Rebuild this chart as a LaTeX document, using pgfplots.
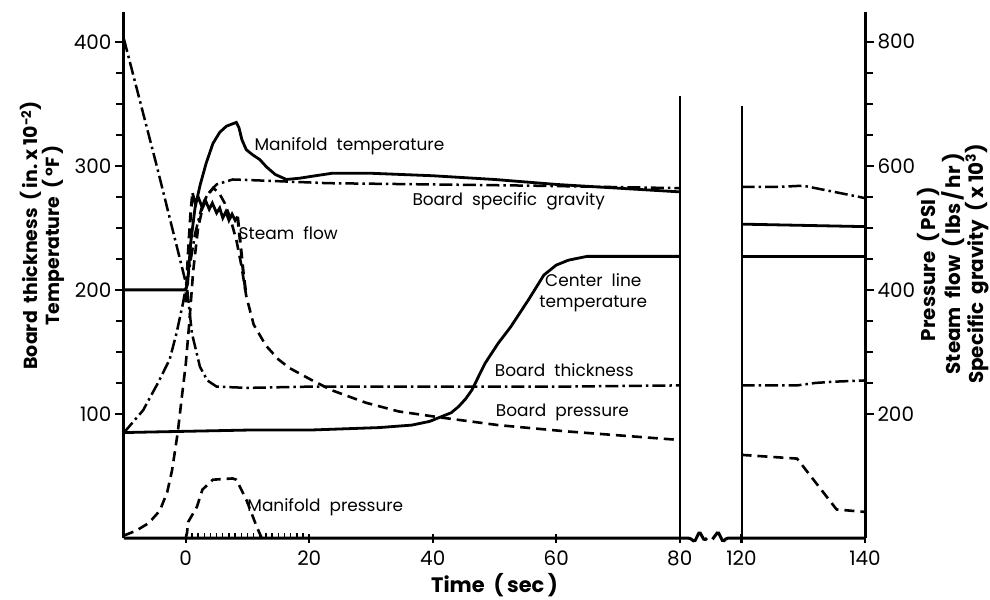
\documentclass[border=0pt]{standalone}
\usepackage{fontspec}
\setmainfont{Poppins}
\usepackage{pgfplots}
\pgfplotsset{compat=1.18}

% right panel (120-140 s) is drawn at 90-110 on the shared x scale
\tikzset{
  dsh/.style={line width=2.6bp, dash pattern=on 10bp off 6bp},
  dshdot/.style={line width=2.5bp, dash pattern=on 13bp off 4bp on 2.5bp off 4bp},
  sld/.style={line width=2.8bp},
  lbl/.style={font=\fontsize{17}{21}\selectfont, align=center},
}

\begin{document}
\begin{tikzpicture}
\begin{axis}[
  at={(0,0)}, anchor=south west,
  scale only axis, width=741bp, height=526bp,
  xmin=-10, xmax=110, ymin=0, ymax=424,
  axis y line*=left, axis x line*=bottom,
  x axis line style={draw=none},
  y axis line style={line width=3bp},
  xtick={0,20,40,60,80,90,110},
  xticklabels={0,20,40,60,80,120,140},
  xtick align=center,
  xticklabel style={yshift=-5bp},
  extra x ticks={1,2,3,4,5,6,7,8,9,10,11,12,13,14,15,16,17,18,19},
  extra x tick labels={},
  extra x tick style={tick align=inside, major tick length=5bp, tick style={line width=1.4bp}},
  ytick={100,200,300,400},
  minor y tick num=3,
  ytick align=outside,
  major tick length=9bp, minor tick length=8bp,
  tick style={line width=2.2bp, black},
  ticklabel style={font=\fontsize{20}{20}\selectfont},
  /pgf/number format/assume math mode=true,
  clip=false,
]

% Manifold temperature
\addplot[sld] coordinates {
  (-10,200) (0,200) (0.3,205) (0.8,238) (1.5,266) (2.3,284) (3.3,302)
  (4.4,318) (5.5,327) (6.6,332) (8.2,335) (8.6,331) (9.1,321) (9.8,313)
  (10.8,309) (12,305) (13.1,299) (14.5,293) (16.3,289) (18.4,290)
  (21,292) (23.7,294) (30,294) (40,292) (50,289) (60,285) (70,282) (80,279)
};
\addplot[sld] coordinates {(90,253) (110,251)};

% Center line temperature
\addplot[sld] coordinates {
  (-10,85) (0,86) (10,87) (20,87) (31.3,89) (36.6,91) (39.5,94) (41.3,97.6)
  (43,101) (44.2,106) (45.3,112) (46.3,119) (48.5,141) (50.6,157)
  (52.6,170) (55.5,192) (58,212) (60,220) (62,224) (65,227) (80,227)
};
\addplot[sld] coordinates {(90,227) (110,227)};

% Board thickness
\addplot[dshdot] coordinates {
  (-10,402) (-4.7,300) (0.2,202) (1,165) (2.3,138) (3.5,127) (5,122)
  (10,121) (20,122) (40,122) (60,122) (80,123)
};
\addplot[dshdot] coordinates {(90,123) (99,123) (102,125) (105,126) (110,127)};

% Board specific gravity
\addplot[dshdot] coordinates {
  (-10,85) (-6.9,103) (-4.5,125) (-2.6,144) (-1.5,165) (-0.5,188) (0.5,215)
  (1.5,245) (2.5,265) (3.5,277) (5,285) (7.6,289) (13,288) (23,286)
  (40,285) (56,284) (80,282)
};
\addplot[dshdot] coordinates {(90,283) (96,283) (100,284) (104,280) (110,274)};

% Board pressure
\addplot[dsh] coordinates {
  (-10,2) (-8,6) (-6,12) (-4.2,22) (-3,37) (-2.2,55) (-1.3,85) (-0.6,115)
  (0,140) (0.6,175) (1.2,215) (2,250) (3,272) (4.4,282) (5.3,279)
  (6.3,270) (7.2,258) (8.2,240) (9,220) (9.8,195) (11,172) (13,155)
  (15,144) (16.8,137) (20.5,127) (23.7,119) (29.2,109) (34.5,102)
  (41.5,97) (50.6,91) (61.5,86) (80,79)
};
\addplot[dsh] coordinates {(90,67) (99,64) (105.4,23) (110,21)};

% Steam flow
\addplot[dsh, line width=3bp] coordinates {(0,190) (0.4,230) (0.8,262) (1.1,278)};
\addplot[sld] coordinates {
  (1.1,278) (1.5,270) (2,275) (2.7,266) (3.2,272) (3.8,265) (4.3,270)
  (5,262) (5.5,266) (6,258) (6.5,263) (7,256) (7.5,261) (8,256) (8.4,259)
};
\addplot[dsh, line width=3bp] coordinates {(8.4,259) (8.8,240) (9.3,215) (9.8,195)};

% Manifold pressure
\addplot[dsh] coordinates {
  (0,0) (0.2,4) (0.4,13) (1.8,25) (2.7,39) (4.4,47) (7.6,48) (8.2,47)
  (9.8,31) (11.5,9) (12.3,0)
};

% broken time axis and panel edges
\draw[line width=3bp, rounded corners=1.5bp]
  (axis cs:-10,0) -- (axis cs:81.6,0) -- (axis cs:82.4,-3) -- (axis cs:83.2,5)
  -- (axis cs:84,-2) -- (axis cs:84.4,0);
\draw[line width=3bp, rounded corners=1.5bp]
  (axis cs:85.3,-1) -- (axis cs:86.2,5) -- (axis cs:87,-3) -- (axis cs:87.6,0)
  -- (axis cs:110,0);
\draw[line width=2bp] (axis cs:80,0) -- (axis cs:80,356);
\draw[line width=2bp] (axis cs:90,0) -- (axis cs:90,348);

% curve labels
\node[lbl] at (axis cs:26.5,316) {Manifold\ \ temperature};
\node[lbl] at (axis cs:52.3,271) {Board\ \ specific\ \ gravity};
\node[lbl] at (axis cs:16.6,246) {Steam\ \ flow};
\node[lbl] at (axis cs:66,198) {Center\ \ line\\temperature};
\node[lbl] at (axis cs:61.3,135) {Board\ \ thickness};
\node[lbl] at (axis cs:61,101) {Board\ \ pressure};
\node[lbl] at (axis cs:22.6,25) {Manifold\ \ pressure};

% axis titles
\node[font=\fontsize{21}{21}\selectfont\bfseries] at (axis cs:50,-38) {Time\ \ (\,sec\,)};
\node[rotate=90, align=center, font=\fontsize{19}{21}\selectfont\bfseries]
  at (axis cs:-23.2,244) {Board\ \ thickness\ \ (\,in.\ x\ 10\textsuperscript{-2})\\Temperature\ \ (\,°F\,)};
\node[rotate=90, align=center, font=\fontsize{20}{22}\selectfont\bfseries]
  at (axis cs:124.3,221) {Pressure\ \ (\,PSI\,)\\Steam\ \ flow\ \ (\,lbs\,/\,hr\,)\\Specific\ \ gravity\ \ (\,x\ 10\textsuperscript{3})};
\end{axis}

\begin{axis}[
  at={(0,0)}, anchor=south west,
  scale only axis, width=741bp, height=526bp,
  xmin=-10, xmax=110, ymin=0, ymax=848,
  axis y line*=right, axis x line=none,
  y axis line style={line width=3bp},
  ytick={200,400,600,800},
  minor y tick num=3,
  ytick align=outside,
  major tick length=9bp, minor tick length=8bp,
  tick style={line width=2.2bp, black},
  ticklabel style={font=\fontsize{20}{20}\selectfont},
  /pgf/number format/assume math mode=true,
]
\end{axis}

\pgfresetboundingbox
\path[use as bounding box] (-124bp,-62bp) rectangle (866bp,538bp);
\end{tikzpicture}
\end{document}
